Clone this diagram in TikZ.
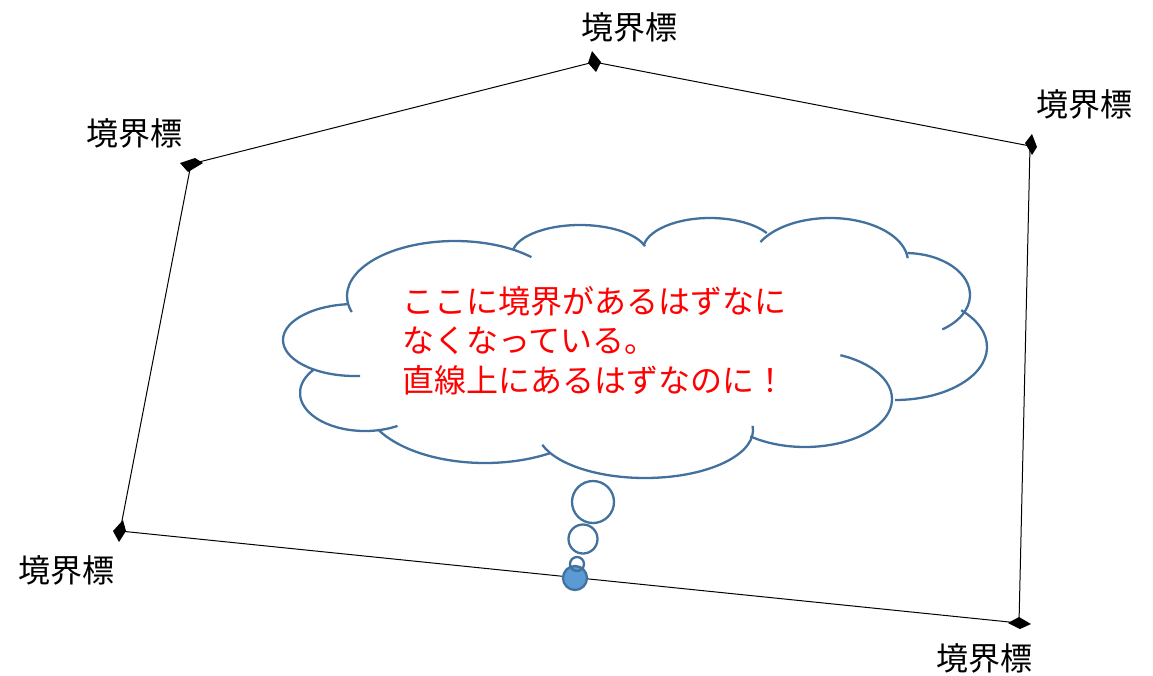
\documentclass[tikz,border=0pt]{standalone}
\usepackage{fontspec}
\setmainfont{Noto Sans CJK JP}
\usetikzlibrary{calc}
\newcommand\cloudlobe[6]{\draw[cloudline] ($(#1,#2)+(-#5:#3 and #4)$) arc[start angle=-#5,end angle=-#6,x radius=#3,y radius=#4];}
\begin{document}
\begin{tikzpicture}[x=1pt,y=-1pt,
  edge/.style={black,line width=1pt},
  cloudline/.style={draw=cloudblue,line width=2.3pt},
  lbl/.style={anchor=base,inner sep=0pt,font=\fontsize{32}{32}\selectfont},
  msg/.style={anchor=base west,inner sep=0pt,text=red,font=\fontsize{32}{32}\selectfont},
  bub/.style={draw=cloudblue,line width=2.3pt,circle,inner sep=0pt}]
\definecolor{cloudblue}{HTML}{41719C}
\definecolor{dotblue}{HTML}{5B9BD5}
\useasboundingbox (0,0) rectangle (1153,675);
% boundary marks
\coordinate (pT) at (594,62);
\coordinate (pUL) at (191,164);
\coordinate (pUR) at (1030,146);
\coordinate (pLL) at (120,531);
\coordinate (pLR) at (1019,623);
\draw[edge] (pUL) -- (pT) -- (pUR) -- (pLR) -- (pLL) -- cycle;
\fill ($(pT)+(-2,-11)$) -- ($(pT)+(7,0)$) -- ($(pT)+(2,10)$) -- ($(pT)+(-6,1)$) -- cycle;
\fill ($(pUL)+(-11,-1)$) -- ($(pUL)+(4,-6)$) -- ($(pUL)+(12,-1)$) -- ($(pUL)+(-3,8)$) -- cycle;
\fill ($(pUR)+(2,-12)$) -- ($(pUR)+(7,1)$) -- ($(pUR)+(2,9)$) -- ($(pUR)+(-5,-3)$) -- cycle;
\fill ($(pLL)+(3,-11)$) -- ($(pLL)+(6,0)$) -- ($(pLL)+(-1,11)$) -- ($(pLL)+(-7,0)$) -- cycle;
\fill ($(pLR)+(-11,0)$) -- ($(pLR)+(0,-6)$) -- ($(pLR)+(12,1)$) -- ($(pLR)+(1,6)$) -- cycle;
% labels
\node[lbl] (lT) at (629,39) {境界標};
\node[lbl] (lUL) at (134,145) {境界標};
\node[lbl] (lUR) at (1084,116) {境界標};
\node[lbl] (lLL) at (66,582) {境界標};
\node[lbl] (lLR) at (984,670) {境界標};
% cloud lobes: cx, cy, rx, ry, start, end (angles measured screen-up)
\cloudlobe{455}{296}{108}{55}{197}{45}
\cloudlobe{580}{255}{68}{30}{168}{17}
\cloudlobe{710}{250}{67}{32}{171}{32}
\cloudlobe{830}{262}{78}{44}{153}{5}
\cloudlobe{905}{295}{65}{42}{88}{-55}
\cloudlobe{895}{347}{92}{53}{44}{-90}
\cloudlobe{805}{399}{87}{48}{66}{-129}
\cloudlobe{645}{430}{108}{48}{5}{-162}
\cloudlobe{485}{400}{121}{63}{-57}{-152}
\cloudlobe{365}{393}{65}{38}{-60}{-218}
\cloudlobe{355}{340}{72}{36}{-86}{-264}
% message
\node[msg] (m1) at (402,313) {ここに境界があるはずなに};
\node[msg] (m2) at (402,352) {なくなっている。};
\node[msg] (m3) at (402,392) {直線上にあるはずなのに！};
% thought bubbles
\node[bub,minimum size=42pt] (b1) at (593,502) {};
\node[bub,minimum size=29pt] (b2) at (583,539) {};
\node[draw=cloudblue,line width=2.3pt,circle,inner sep=0pt,fill=dotblue,minimum size=24pt] (dot) at (575,578) {};
\node[bub,minimum size=14pt] (b3) at (577,564) {};
\end{tikzpicture}
\end{document}
